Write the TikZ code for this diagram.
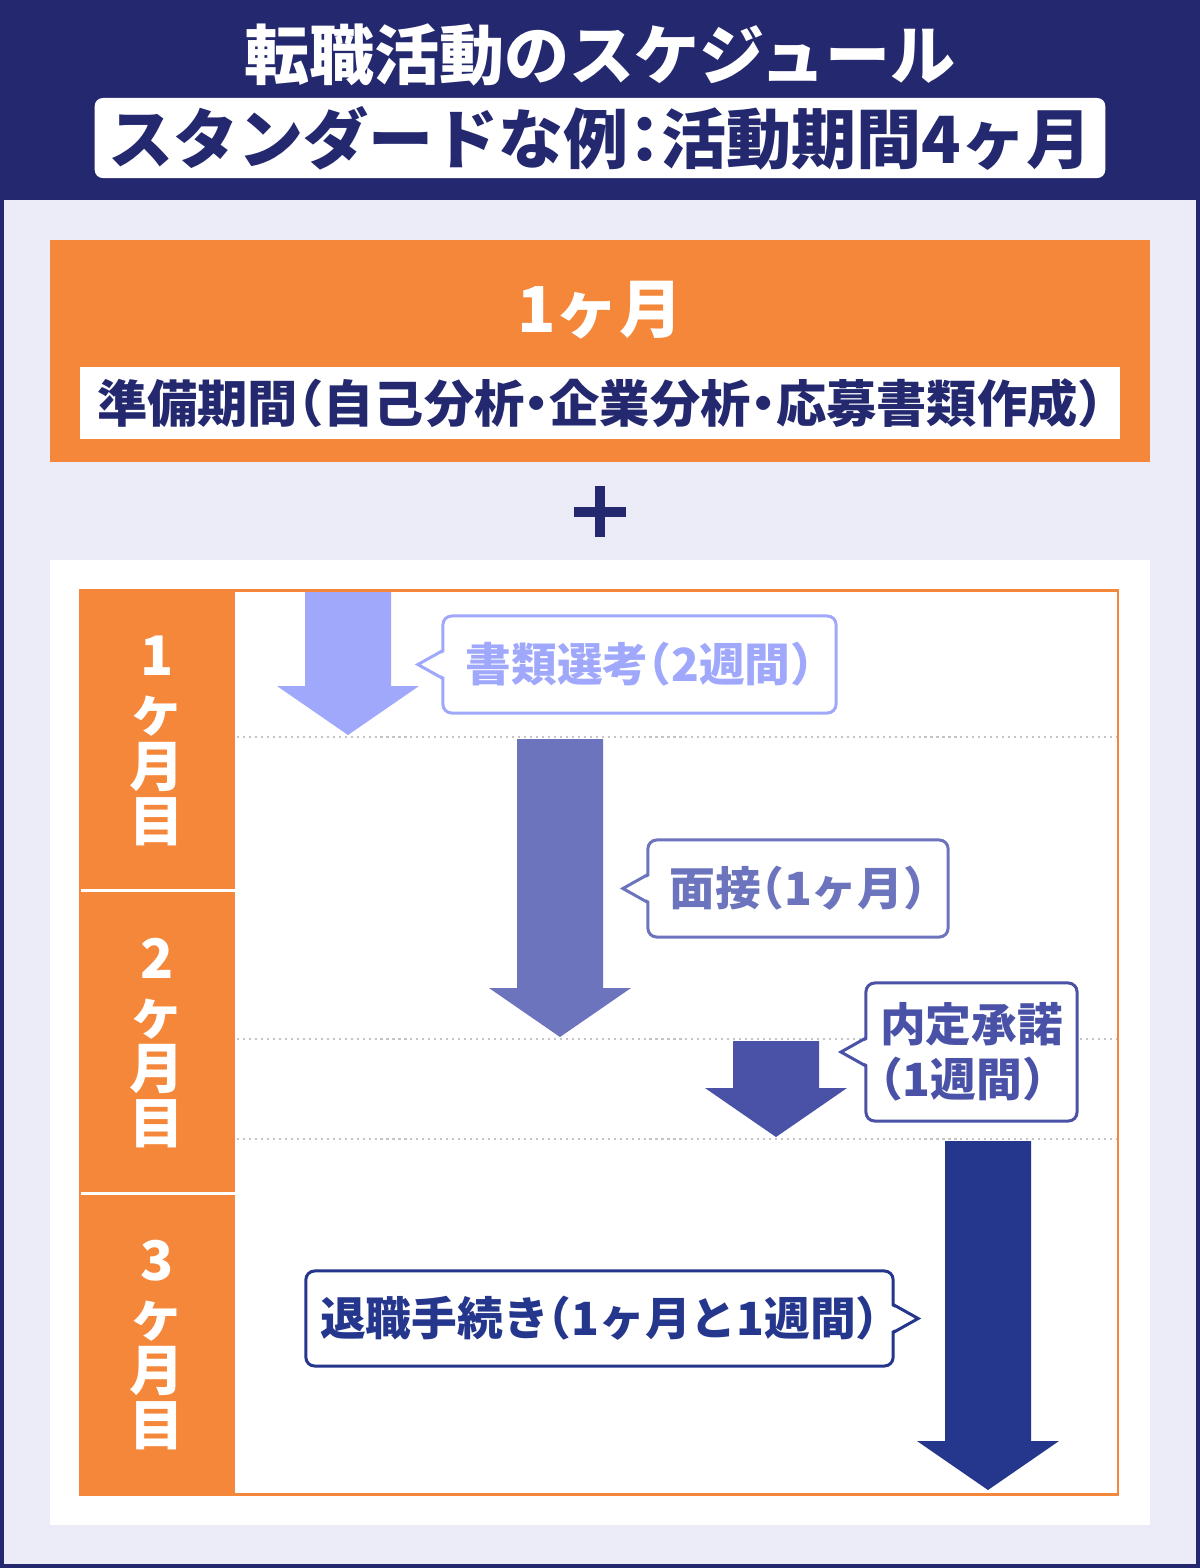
\documentclass[tikz,border=0pt]{standalone}
\usepackage{fontspec}
\usepackage{xcolor}
\usepackage{tikz}
\usetikzlibrary{positioning}
\newfontfamily\cjk{Noto Sans CJK JP}[RawFeature=+halt]

\definecolor{navy}{HTML}{23286F}
\definecolor{lav}{HTML}{ECECF9}
\definecolor{orng}{HTML}{F5873A}
\definecolor{stepA}{HTML}{A0A8FC}
\definecolor{stepB}{HTML}{6C74BE}
\definecolor{stepC}{HTML}{4A52A8}
\definecolor{stepD}{HTML}{25368D}
\definecolor{dotgray}{HTML}{C4C4C4}

\begin{document}
\begin{tikzpicture}[
  x=0.01cm, y=-0.01cm,
  headtxt/.style={font=\cjk\bfseries\fontsize{18.5}{20}\selectfont, text=white},
  whitebox/.style={fill=white, text=navy, inner sep=0pt, outer sep=0pt},
  month/.style={font=\cjk\bfseries\fontsize{15.5}{15.7}\selectfont, text=white,
                align=center, inner sep=0pt},
  bubble/.style={draw, fill=white, line width=0.85pt, rounded corners=2.5pt,
                 outer sep=0pt, inner sep=0pt,
                 font=\cjk\bfseries\fontsize{13}{15.5}\selectfont},
  dotline/.style={dotgray, line width=0.6pt, dash pattern=on 0.6pt off 1.1pt}
]
\useasboundingbox (0,0) rectangle (1200,1568);
\fill[navy] (0,0) rectangle (1200,1568);
\fill[lav] (4,200) rectangle (1196,1564);

% header
\node[headtxt] (title) at (600,55) {転職活動のスケジュール};
\node[whitebox, rounded corners=2.3pt, minimum width=10.1cm, minimum height=0.8cm,
      font=\cjk\bfseries\fontsize{18.5}{20}\selectfont] (sub) at (600,138)
      {スタンダードな例：活動期間4ヶ月};

% preparation month
\node[fill=orng, minimum width=11cm, minimum height=2.22cm, outer sep=0pt] (prep) at (600,351) {};
\node[font=\cjk\bfseries\fontsize{18}{20}\selectfont, text=white] (prepm) at (600,310) {1ヶ月};
\node[whitebox, minimum width=10.4cm, minimum height=0.71cm,
      font=\cjk\bfseries\fontsize{14.3}{16}\selectfont] (prept) at (600,403)
      {準備期間（自己分析・企業分析・応募書類作成）};

% plus
\draw[navy, line width=2.85pt] (574,512) -- (626,512) (600,486) -- (600,537);

% schedule panel
\fill[white] (50,560) rectangle (1150,1525);
\fill[orng] (80,590) rectangle (235,1494);
\foreach \y in {890,1193}
  \draw[white, line width=0.85pt] (80,\y) -- (235,\y);
\foreach \y in {737,1039,1139}
  \draw[dotline] (237,\y) -- (1116,\y);
\draw[orng, line width=0.85pt] (80,590) rectangle (1118,1494);
\foreach \n/\y in {1/741,2/1043,3/1345}
  \node[month] (m\n) at (157,\y) {\n\\ヶ\\月\\目};

% block arrows
\foreach \cx/\yt/\yb/\col in {348/592/735/stepA, 560/739/1037/stepB,
                              776/1041/1137/stepC, 988/1141/1490/stepD}
  \fill[\col] (\cx-43,\yt) -- (\cx+43,\yt) -- (\cx+43,\yb-49) -- (\cx+71,\yb-49)
    -- (\cx,\yb) -- (\cx-71,\yb-49) -- (\cx-43,\yb-49) -- cycle;

% callouts
\node[bubble, draw=stepA, text=stepA, minimum width=3.93cm, minimum height=0.97cm]
  (bubA) at (639.5,664.5) {書類選考（2週間）};
\node[bubble, draw=stepB, text=stepB, minimum width=3.0cm, minimum height=0.97cm]
  (bubB) at (798,888.5) {面接（1ヶ月）};
\node[bubble, draw=stepC, text=stepC, minimum width=2.11cm, minimum height=1.38cm,
      align=left] (bubC) at (971.5,1052) {内定承諾\\（1週間）};
\node[bubble, draw=stepD, text=stepD, minimum width=5.87cm, minimum height=0.95cm]
  (bubD) at (599.5,1318.5) {退職手続き（1ヶ月と1週間）};
\foreach \b/\col in {bubA/stepA, bubB/stepB, bubC/stepC} {
  \fill[white] ([xshift=0.7pt]\b.west) ++(0,-13) -- ++(-23,13) -- ++(23,13) -- cycle;
  \draw[\col, line width=0.85pt] (\b.west) ++(0,-14) -- ++(-25,14) -- ++(25,14);
}
\fill[white] ([xshift=-0.7pt]bubD.east) ++(0,-13) -- ++(23,13) -- ++(-23,13) -- cycle;
\draw[stepD, line width=0.85pt] (bubD.east) ++(0,-14) -- ++(25,14) -- ++(-25,14);
\end{tikzpicture}
\end{document}
